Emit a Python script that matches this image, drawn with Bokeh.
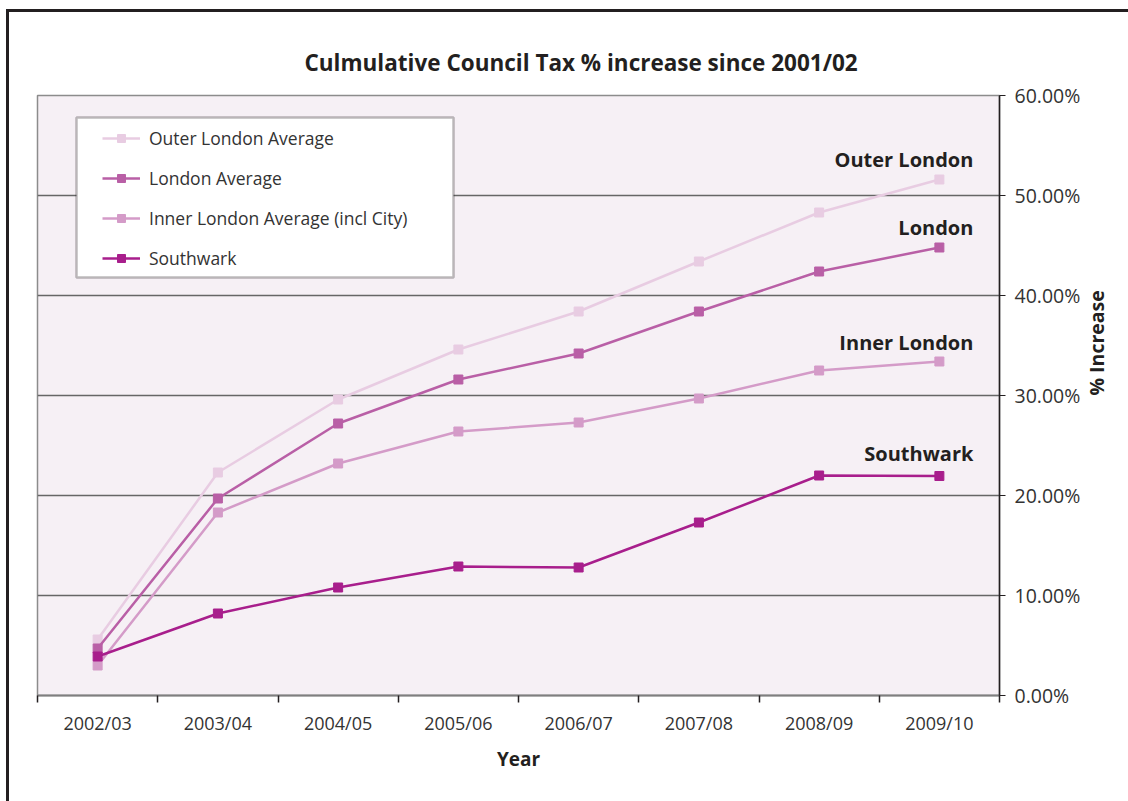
import math
from bokeh.plotting import figure
from bokeh.layouts import column
from bokeh.models import (Range1d, FixedTicker, PrintfTickFormatter,
                          BoxAnnotation, Legend, LegendItem, ColumnDataSource)
from bokeh.core.properties import value
from bokeh.embed import file_html
from bokeh.resources import INLINE

years = ["2002/03", "2003/04", "2004/05", "2005/06", "2006/07", "2007/08", "2008/09", "2009/10"]
outer_london = [5.6, 22.3, 29.6, 34.6, 38.4, 43.4, 48.3, 51.6]
london = [4.7, 19.7, 27.2, 31.6, 34.2, 38.4, 42.4, 44.8]
inner_london = [3.0, 18.3, 23.2, 26.4, 27.3, 29.7, 32.5, 33.4]
southwark = [3.9, 8.2, 10.8, 12.9, 12.8, 17.3, 22.0, 21.95]
y_ticks = [0, 10, 20, 30, 40, 50, 60]

series_names = ["Outer London Average", "London Average", "Inner London Average (incl City)", "Southwark"]
short_names = ["Outer London", "London", "Inner London", "Southwark"]
series_values = [outer_london, london, inner_london, southwark]
colors = ["#E8CCE2", "#B95FA6", "#D49BC8", "#A81E8C"]
label_dy = [-20, -20, -19, -23]

FONT = "Open Sans"
TEXT = "#231F20"

x_pos = [i + 0.5 for i in range(len(years))]
boundaries = list(range(len(years) + 1))

p = figure(width=1119, height=789, output_backend="svg", toolbar_location=None,
           x_range=Range1d(0, len(years)), y_range=Range1d(0, 60),
           y_axis_location="right",
           title="Culmulative Council Tax % increase since 2001/02",
           min_border_left=28, min_border_right=129, min_border_top=83, min_border_bottom=106)
p.background_fill_color = "#F6F0F5"
p.border_fill_color = "white"
p.outline_line_color = "#8C8C8C"
p.outline_line_width = 1.5

p.title.align = "left"
p.title.offset = 267
p.title.standoff = 36
p.title.text_font = FONT
p.title.text_font_style = "bold"
p.title.text_font_size = "22.5px"
p.title.text_color = TEXT

# x axis
xa = p.xaxis[0]
xa.ticker = FixedTicker(ticks=x_pos, minor_ticks=boundaries)
xa.major_label_overrides = {x: y for x, y in zip(x_pos, years)}
xa.major_tick_line_color = None
xa.major_tick_out = 0
xa.major_tick_in = 0
xa.minor_tick_line_color = "#231F20"
xa.minor_tick_line_width = 1.5
xa.minor_tick_out = 7
xa.minor_tick_in = 0
xa.axis_line_color = "#7F7F7F"
xa.axis_line_width = 2
xa.major_label_text_font = FONT
xa.major_label_text_font_size = "18px"
xa.major_label_text_color = "#333333"
xa.major_label_standoff = 8
xa.axis_label = "Year"
xa.axis_label_text_font = FONT
xa.axis_label_text_font_style = "bold"
xa.axis_label_text_font_size = "19px"
xa.axis_label_text_color = TEXT
xa.axis_label_standoff = 8

# y axis
ya = p.yaxis[0]
ya.ticker = FixedTicker(ticks=y_ticks, minor_ticks=[])
ya.formatter = PrintfTickFormatter(format="%.2f%%")
ya.axis_line_color = "#231F20"
ya.axis_line_width = 1.5
ya.major_tick_line_color = "#231F20"
ya.major_tick_line_width = 1.2
ya.major_tick_out = 6
ya.major_tick_in = 0
ya.minor_tick_line_color = None
ya.major_label_text_font = FONT
ya.major_label_text_font_size = "19.5px"
ya.major_label_text_color = "#333333"
ya.major_label_standoff = 9
ya.axis_label = "% Increase"
ya.axis_label_text_font = FONT
ya.axis_label_text_font_style = "bold"
ya.axis_label_text_font_size = "19.5px"
ya.axis_label_text_color = TEXT
ya.axis_label_standoff = 13
if "axis_label_orientation" in ya.properties():
    ya.axis_label_orientation = math.pi / 2

p.xgrid.grid_line_color = None
p.ygrid.ticker = FixedTicker(ticks=y_ticks)
p.ygrid.grid_line_color = "#666666"
p.ygrid.grid_line_width = 1.5

items = []
for name, vals, col in zip(series_names, series_values, colors):
    lr = p.line(x_pos, vals, line_color=col, line_width=2.5)
    sr = p.scatter(x_pos, vals, marker="square", size=9, fill_color=col, line_color=col)
    items.append(LegendItem(label=name, renderers=[lr, sr]))

# end labels
src = ColumnDataSource(dict(
    x=[x_pos[-1]] * len(short_names),
    y=[v[-1] for v in series_values],
    t=short_names,
    dy=label_dy,
))
p.text(x="x", y="y", text="t", y_offset="dy", x_offset=34, source=src,
       text_align="right", text_baseline="middle", text_color=TEXT,
       text_font=value(FONT), text_font_style="bold", text_font_size="20px")

# legend box
p.add_layout(BoxAnnotation(left=39, right=416, top=578, bottom=418,
                           left_units="screen", right_units="screen",
                           top_units="screen", bottom_units="screen",
                           fill_color="white", fill_alpha=1,
                           line_color="#231F20", line_width=2.5))

legend = Legend(items=items, location=(65, 425), padding=0, margin=0,
                spacing=16, glyph_height=20, glyph_width=38, label_height=20,
                label_standoff=9, background_fill_alpha=0, border_line_alpha=0,
                label_text_font=FONT, label_text_font_size="17.5px", label_text_color="#333333")
p.add_layout(legend)

root = column(p, styles={"border-left": "3px solid #231F20",
                         "border-top": "3px solid #231F20",
                         "margin-left": "6px", "margin-top": "9px"})

open("out.html", "w").write(file_html(root, INLINE))
